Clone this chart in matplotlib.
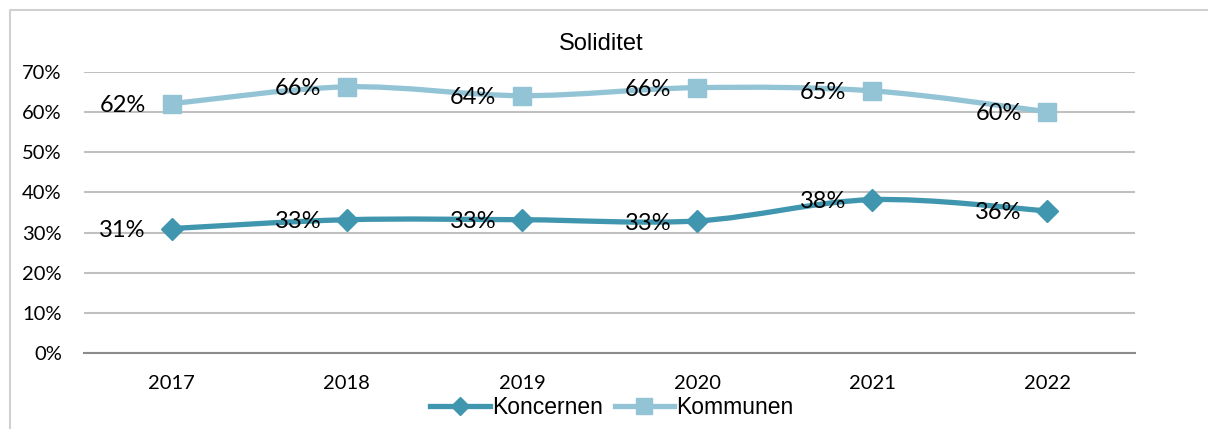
import numpy as np
import matplotlib
matplotlib.use('Agg')
import matplotlib.pyplot as plt
from matplotlib.path import Path
from matplotlib.patches import PathPatch
from matplotlib.lines import Line2D
from matplotlib.ticker import PercentFormatter

years = ['2017', '2018', '2019', '2020', '2021', '2022']
koncernen = [0.31, 0.332, 0.332, 0.329, 0.382, 0.354]
kommunen = [0.621, 0.663, 0.641, 0.661, 0.653, 0.601]
koncernen_lbl = ['31%', '33%', '33%', '33%', '38%', '36%']
kommunen_lbl = ['62%', '66%', '64%', '66%', '65%', '60%']

c_dark = '#3f96ae'
c_light = '#93c4d6'


def smooth_path(xs, ys):
    # excel-style smoothed line: bezier segments through the points
    pts = np.column_stack([xs, ys]).astype(float)
    ext = np.vstack([pts[0], pts, pts[-1]])
    verts = [pts[0]]
    codes = [Path.MOVETO]
    for i in range(len(pts) - 1):
        p0, p1, p2, p3 = ext[i], ext[i + 1], ext[i + 2], ext[i + 3]
        verts += [p1 + (p2 - p0) / 6, p2 - (p3 - p1) / 6, p2]
        codes += [Path.CURVE4] * 3
    return Path(verts, codes)


fig = plt.figure(figsize=(12.08, 4.29), dpi=100)
ax = fig.add_axes([84 / 1208, 1 - 353 / 429, (1135 - 84) / 1208, (353 - 72) / 429])

x = np.arange(len(years))
for vals, col, mk, ms in [(koncernen, c_dark, 'D', 11), (kommunen, c_light, 's', 13)]:
    ax.add_patch(PathPatch(smooth_path(x, vals), fill=False, edgecolor=col,
                           lw=3.8, capstyle='round', joinstyle='round', zorder=3))
    ax.plot(x, vals, linestyle='none', marker=mk, ms=ms, color=col, zorder=4)

for xi, v, t in zip(x, koncernen, koncernen_lbl):
    ax.annotate(t, (xi, v), xytext=(-18.5, -1.5), textcoords='offset points',
                ha='right', va='center', fontsize=17, family='Lato', color='black', zorder=5)
for xi, v, t in zip(x, kommunen, kommunen_lbl):
    ax.annotate(t, (xi, v), xytext=(-18.5, -1.5), textcoords='offset points',
                ha='right', va='center', fontsize=17, family='Lato', color='black', zorder=5)

ax.set_xlim(-0.5, len(years) - 0.5)
ax.set_ylim(0, 0.7)
ax.set_yticks(np.arange(0, 0.71, 0.1))
ax.yaxis.set_major_formatter(PercentFormatter(1.0, decimals=0))
ax.set_xticks(x)
ax.set_xticklabels(years)
ax.grid(axis='y', color='#c0c0c0', lw=1.5)
ax.set_axisbelow(True)
for s in ['top', 'right', 'left']:
    ax.spines[s].set_visible(False)
ax.spines['bottom'].set_color('#8c8c8c')
ax.spines['bottom'].set_linewidth(1.5)
ax.tick_params(axis='both', length=0, labelsize=14.5)
ax.tick_params(axis='y', pad=16)
ax.tick_params(axis='x', pad=16)
for lab in ax.get_xticklabels() + ax.get_yticklabels():
    lab.set_family('Lato')

fig.text(601 / 1208, 1 - 44 / 429, 'Soliditet', ha='center', va='center',
         fontsize=17, family='Liberation Sans')

handles = [Line2D([], [], color=c_dark, lw=3.8, marker='D', ms=9),
           Line2D([], [], color=c_light, lw=3.8, marker='s', ms=11)]
fig.legend(handles, ['Koncernen', 'Kommunen'], loc='center', bbox_to_anchor=(612 / 1208, 1 - 408 / 429),
           ncol=2, frameon=False, prop={'family': 'Liberation Sans', 'size': 16.5},
           handlelength=2.6, handletextpad=0.1, columnspacing=0.5, borderpad=0)

# outer chart border (only top and left visible in the crop)
fig.add_artist(Line2D([10 / 1208, 10 / 1208, 1.0], [0.0, 1 - 10 / 429, 1 - 10 / 429],
                      transform=fig.transFigure, color='#d0d0d0', lw=1.5))

fig.savefig('out.png', dpi=100)
